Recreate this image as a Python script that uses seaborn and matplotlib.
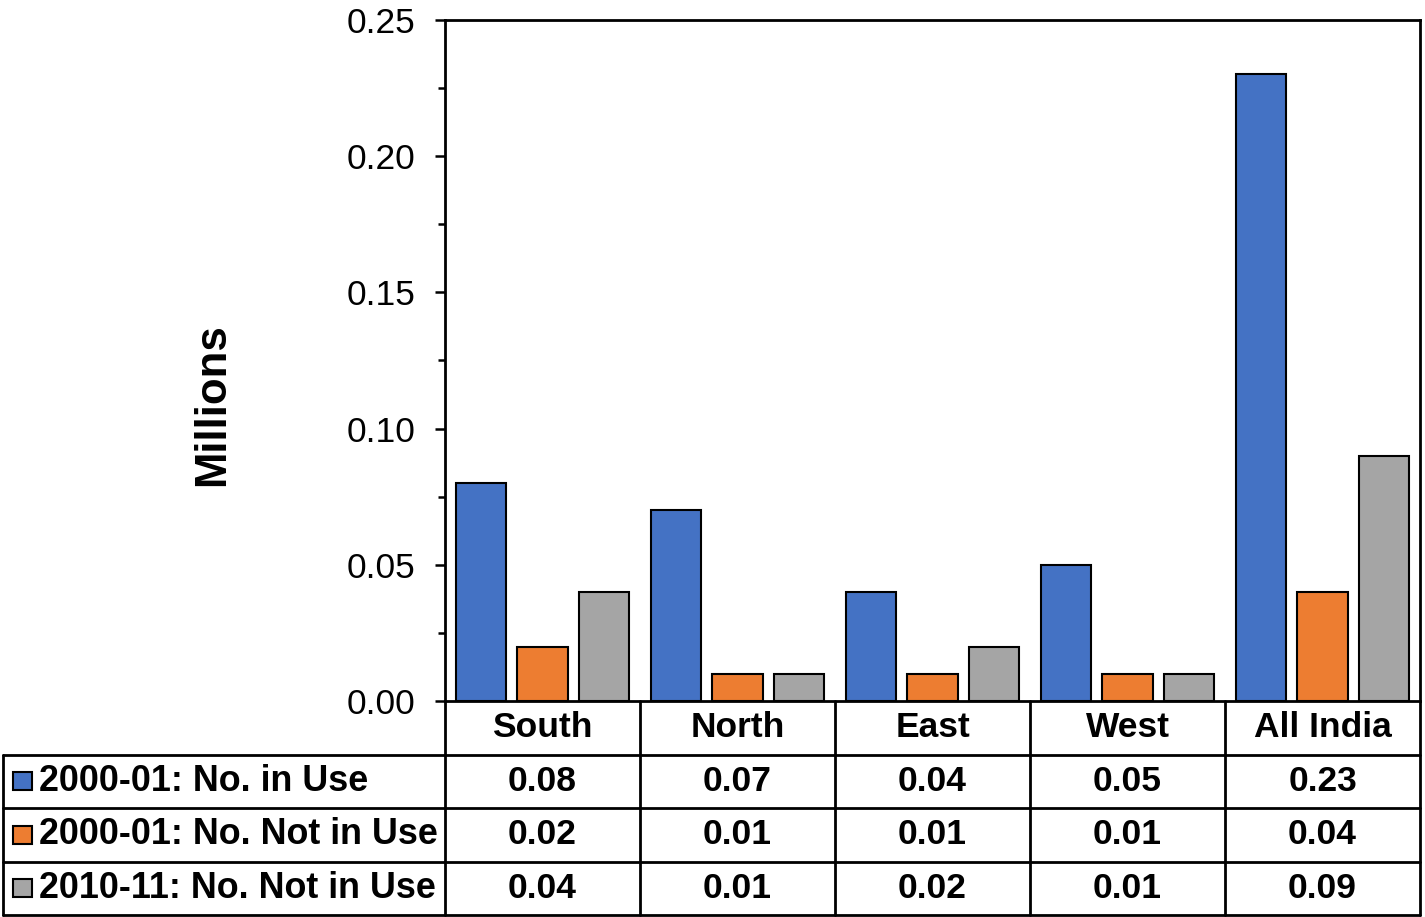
import pandas as pd
import seaborn as sns
import matplotlib.pyplot as plt
from matplotlib.patches import Rectangle
from matplotlib.ticker import MultipleLocator, FormatStrFormatter
from matplotlib.transforms import blended_transform_factory

regions = ['South', 'North', 'East', 'West', 'All India']
series = ['2000-01: No. in Use', '2000-01: No. Not in Use', '2010-11: No. Not in Use']
in_use_2000 = [0.08, 0.07, 0.04, 0.05, 0.23]
not_in_use_2000 = [0.02, 0.01, 0.01, 0.01, 0.04]
not_in_use_2010 = [0.04, 0.01, 0.02, 0.01, 0.09]
colors = ['#4472C4', '#ED7D31', '#A5A5A5']

values = [in_use_2000, not_in_use_2000, not_in_use_2010]
rows = []
for s, vals in zip(series, values):
    for r, v in zip(regions, vals):
        rows.append({'Region': r, 'Series': s, 'Millions': v})
df = pd.DataFrame(rows)

sns.set_theme(style='white')
plt.rcParams['font.family'] = ['Liberation Sans', 'DejaVu Sans']
plt.rcParams['text.color'] = 'black'
plt.rcParams['ytick.color'] = 'black'
plt.rcParams['ytick.labelcolor'] = 'black'

fig = plt.figure(figsize=(14.25, 9.17), dpi=100)
ax = fig.add_axes([445 / 1425, 216 / 917, 975 / 1425, 681 / 917])

sns.barplot(data=df, x='Region', y='Millions', hue='Series', palette=colors,
            saturation=1, width=0.94, gap=0.18, edgecolor='black', linewidth=1.5,
            legend=False, ax=ax)

ax.set_xlim(-0.5, len(regions) - 0.5)
ax.set_ylim(0, 0.25)
ax.yaxis.set_major_locator(MultipleLocator(0.05))
ax.yaxis.set_minor_locator(MultipleLocator(0.025))
ax.yaxis.set_major_formatter(FormatStrFormatter('%.2f'))
ax.tick_params(axis='y', which='major', length=7, width=1.8, labelsize=25.5, pad=14,
               left=True, colors='black')
ax.tick_params(axis='y', which='minor', length=5, width=1.8, left=True, colors='black')
ax.tick_params(axis='x', bottom=False, labelbottom=False)
ax.set_xlabel('')
ax.set_ylabel('')
for sp in ax.spines.values():
    sp.set_linewidth(2)
    sp.set_color('black')

fig.text(213 / 1425, 1 - 405 / 917, 'Millions', rotation=90, fontsize=31.5,
         fontweight='bold', ha='center', va='center', color='black')

# data table under the plot
tr = blended_transform_factory(ax.transData, ax.transAxes)
row_h = 0.0786
px = 5 / 975.0  # data units per pixel
x_left = -0.5 - 442 * px
x_right = len(regions) - 0.5
lw = 2
fs = 25.5

for k in range(1, 5):
    y = -k * row_h
    ax.plot([x_left, x_right], [y, y], color='black', lw=lw, transform=tr, clip_on=False)
ax.plot([x_left, x_left], [-row_h, -4 * row_h], color='black', lw=lw, transform=tr, clip_on=False)
for i in range(len(regions) + 1):
    x = i - 0.5
    ax.plot([x, x], [0, -4 * row_h], color='black', lw=lw, transform=tr, clip_on=False)

for i, r in enumerate(regions):
    ax.text(i, -0.5 * row_h, r, transform=tr, ha='center', va='center',
            fontsize=fs, fontweight='bold', color='black', clip_on=False)

sq = 18 / 681
for j, (s, vals) in enumerate(zip(series, values)):
    yc = -(j + 1.5) * row_h
    ax.add_patch(Rectangle((x_left + 10 * px, yc - sq / 2), 19 * px, sq,
                           facecolor=colors[j], edgecolor='black', lw=1.5,
                           transform=tr, clip_on=False))
    ax.text(x_left + 36 * px, yc, s, transform=tr, ha='left', va='center',
            fontsize=25.8, fontweight='bold', color='black', clip_on=False)
    for i, v in enumerate(vals):
        ax.text(i, yc, f'{v:.2f}', transform=tr, ha='center', va='center',
                fontsize=fs, fontweight='bold', color='black', clip_on=False)

fig.savefig('out.png', dpi=100)
